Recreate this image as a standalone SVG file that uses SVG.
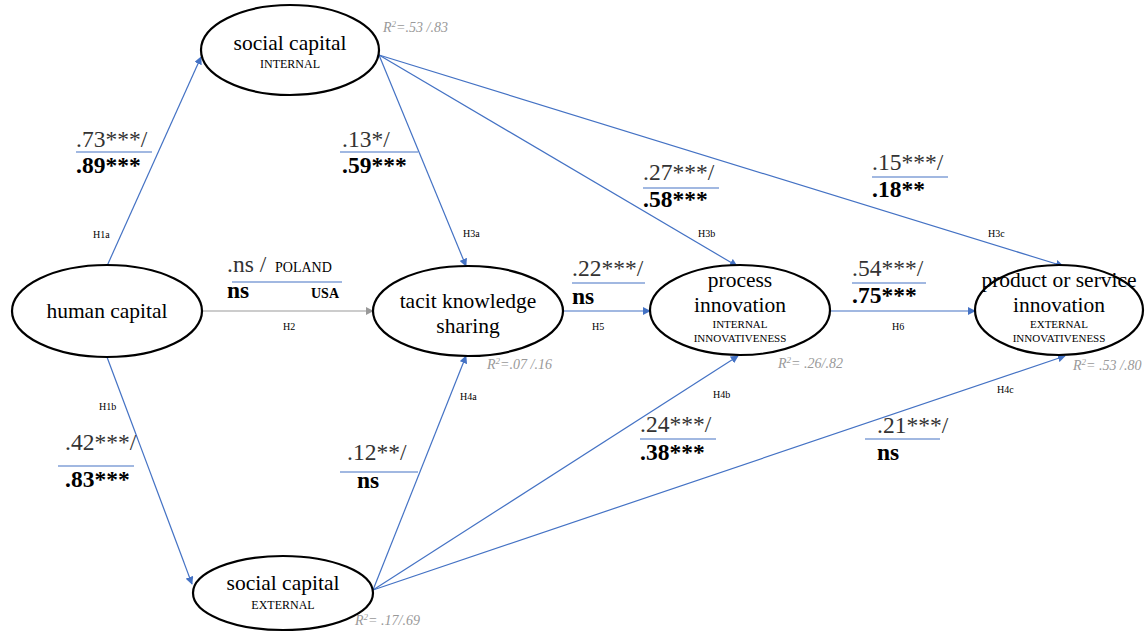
<svg xmlns="http://www.w3.org/2000/svg" width="1147" height="633" viewBox="0 0 1147 633">
<defs>
<marker id="ab" viewBox="0 0 10 10" refX="9" refY="5" markerWidth="8" markerHeight="8" markerUnits="userSpaceOnUse" orient="auto"><path d="M0,0 L10,5 L0,10 z" fill="#4472C4"/></marker>
<marker id="ag" viewBox="0 0 10 10" refX="9" refY="5" markerWidth="8" markerHeight="8" markerUnits="userSpaceOnUse" orient="auto"><path d="M0,0 L10,5 L0,10 z" fill="#999"/></marker>
<style>
text{font-family:'Liberation Serif','Times New Roman','DejaVu Serif',serif}
.node ellipse{fill:#fff;stroke:#000;stroke-width:2.2}
.nt{font-size:21.5px;fill:#000;text-anchor:middle}
.ns{font-size:12px;fill:#000;text-anchor:middle}
.c{stroke:#4472C4;stroke-width:1.2;fill:none;marker-end:url(#ab)}
.cg{stroke:#999;stroke-width:1.2;fill:none;marker-end:url(#ag)}
.sep{stroke:#4472C4;stroke-width:1.2}
.v{font-size:23.5px;fill:#333}
.b{font-size:23.5px;font-weight:bold;fill:#000}
.h{font-size:10px;fill:#000}
.r{font-size:14px;font-style:italic;fill:#999}
.sm{font-size:14px;fill:#000}
</style>
</defs>
<rect width="1147" height="633" fill="#fff"/>
<g id="connectors">
<line class="c" x1="107" y1="266" x2="201" y2="57"/>
<line class="c" x1="107" y1="357" x2="192" y2="584"/>
<line class="cg" x1="202" y1="311" x2="373" y2="311"/>
<line class="c" x1="379" y1="55" x2="466" y2="266"/>
<line class="c" x1="379" y1="55" x2="737" y2="266"/>
<line class="c" x1="379" y1="55" x2="1063" y2="266"/>
<line class="c" x1="563" y1="311" x2="650" y2="311"/>
<line class="c" x1="830" y1="311" x2="975" y2="311"/>
<line class="c" x1="373" y1="590" x2="466" y2="356"/>
<line class="c" x1="373" y1="590" x2="738" y2="356"/>
<line class="c" x1="373" y1="590" x2="1065" y2="356"/>
</g>
<g id="n-social-internal" class="node">
<ellipse cx="290" cy="50" rx="89" ry="45"/>
<text class="nt" x="290" y="50">social capital</text>
<text class="ns" x="290" y="68">INTERNAL</text>
</g>
<g id="n-human" class="node">
<ellipse cx="107" cy="311" rx="95" ry="46"/>
<text class="nt" x="107" y="318">human capital</text>
</g>
<g id="n-tacit" class="node">
<ellipse cx="468" cy="311" rx="95" ry="45"/>
<text class="nt" x="468" y="308">tacit knowledge</text>
<text class="nt" x="468" y="333">sharing</text>
</g>
<g id="n-process" class="node">
<ellipse cx="740" cy="310" rx="90" ry="45"/>
<text class="nt" x="740" y="287">process</text>
<text class="nt" x="740" y="312">innovation</text>
<text class="ns" x="740" y="328" style="font-size:11px">INTERNAL</text>
<text class="ns" x="740" y="342" style="font-size:11px">INNOVATIVENESS</text>
</g>
<g id="n-product" class="node">
<ellipse cx="1059" cy="310" rx="84" ry="45"/>
<text class="nt" x="1059" y="287">product or service</text>
<text class="nt" x="1059" y="312">innovation</text>
<text class="ns" x="1059" y="328" style="font-size:11px">EXTERNAL</text>
<text class="ns" x="1059" y="342" style="font-size:11px">INNOVATIVENESS</text>
</g>
<g id="n-social-external" class="node">
<ellipse cx="283" cy="593" rx="90" ry="37"/>
<text class="nt" x="283" y="590">social capital</text>
<text class="ns" x="283" y="609">EXTERNAL</text>
</g>
<g id="labels">
<text class="r" x="383" y="32">R<tspan font-size="9" dy="-5">2</tspan><tspan dy="5">=.53 /.83</tspan></text>
<text class="r" x="487" y="369">R<tspan font-size="9" dy="-5">2</tspan><tspan dy="5">=.07 /.16</tspan></text>
<text class="r" x="778" y="368">R<tspan font-size="9" dy="-5">2</tspan><tspan dy="5">= .26/.82</tspan></text>
<text class="r" x="1073" y="370">R<tspan font-size="9" dy="-5">2</tspan><tspan dy="5">= .53 /.80</tspan></text>
<text class="r" x="355" y="625">R<tspan font-size="9" dy="-5">2</tspan><tspan dy="5">= .17/.69</tspan></text>

<text class="v" x="76" y="147">.73***/</text>
<line class="sep" x1="76" y1="152" x2="152" y2="152"/>
<text class="b" x="76" y="173">.89***</text>
<text class="h" x="93" y="238">H1a</text>

<text class="v" x="342" y="147">.13*/</text>
<line class="sep" x1="340" y1="152" x2="418" y2="152"/>
<text class="b" x="342" y="173">.59***</text>
<text class="h" x="463" y="237">H3a</text>

<text class="v" x="643" y="180">.27***/</text>
<line class="sep" x1="643" y1="188" x2="719" y2="188"/>
<text class="b" x="643" y="207">.58***</text>
<text class="h" x="698" y="237">H3b</text>

<text class="v" x="872" y="170">.15***/</text>
<line class="sep" x1="872" y1="177" x2="948" y2="177"/>
<text class="b" x="872" y="197">.18**</text>
<text class="h" x="988" y="237">H3c</text>

<text class="v" x="227" y="272">.ns /</text>
<text class="sm" x="275" y="272">POLAND</text>
<line class="sep" x1="232" y1="282" x2="342" y2="282"/>
<text class="b" x="227" y="298">ns</text>
<text class="sm" x="311" y="298" font-weight="bold">USA</text>
<text class="h" x="283" y="330">H2</text>

<text class="v" x="572" y="276">.22***/</text>
<line class="sep" x1="572" y1="283" x2="645" y2="283"/>
<text class="b" x="572" y="304">ns</text>
<text class="h" x="592" y="330">H5</text>

<text class="v" x="852" y="276">.54***/</text>
<line class="sep" x1="852" y1="283" x2="926" y2="283"/>
<text class="b" x="852" y="303">.75***</text>
<text class="h" x="892" y="330">H6</text>

<text class="h" x="99" y="410">H1b</text>
<text class="v" x="65" y="450">.42***/</text>
<line class="sep" x1="58" y1="466" x2="134" y2="466"/>
<text class="b" x="65" y="487">.83***</text>

<text class="h" x="460" y="400">H4a</text>
<text class="v" x="347" y="460">.12**/</text>
<line class="sep" x1="340" y1="472" x2="418" y2="472"/>
<text class="b" x="357" y="488">ns</text>

<text class="h" x="713" y="398">H4b</text>
<text class="v" x="640" y="432">.24***/</text>
<line class="sep" x1="640" y1="439" x2="716" y2="439"/>
<text class="b" x="640" y="460">.38***</text>

<text class="h" x="997" y="393">H4c</text>
<text class="v" x="877" y="433">.21***/</text>
<line class="sep" x1="865" y1="439" x2="940" y2="439"/>
<text class="b" x="877" y="460">ns</text>
</g>
</svg>
